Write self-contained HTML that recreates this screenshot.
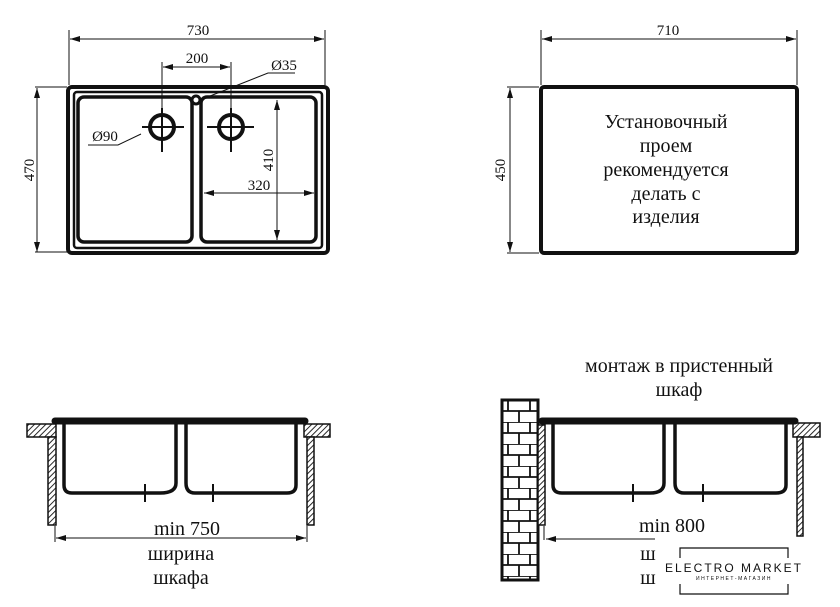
<!DOCTYPE html>
<html><head><meta charset="utf-8"><style>
html,body{margin:0;padding:0;background:#fff;width:840px;height:607px;overflow:hidden}
svg{display:block}
text{font-family:"Liberation Serif",serif;fill:#111}
</style></head><body>
<svg width="840" height="607" viewBox="0 0 840 607" xmlns="http://www.w3.org/2000/svg">
<defs>
<marker id="a" viewBox="0 0 10 6" refX="10" refY="3" markerWidth="10" markerHeight="6" orient="auto-start-reverse" markerUnits="userSpaceOnUse"><path d="M0,0 L10,3 L0,6 z" fill="#111"/></marker>
<pattern id="h" width="4" height="4" patternUnits="userSpaceOnUse" patternTransform="rotate(45)"><rect width="4" height="4" fill="#fff"/><line x1="0" y1="0" x2="0" y2="4" stroke="#111" stroke-width="1.8"/></pattern>
<pattern id="b" width="22" height="22" patternUnits="userSpaceOnUse" x="502" y="400"><rect width="22" height="22" fill="#fff"/><path d="M0,0H22M0,11H22M6,0V11M17,11V22" stroke="#111" stroke-width="1.8" fill="none"/></pattern>
</defs>
<g stroke="#111" fill="none">
<rect x="68" y="87" width="260" height="166" rx="4" stroke-width="4"/>
<rect x="74" y="92" width="248" height="156" rx="3" stroke-width="2.5"/>
<rect x="78" y="97" width="114" height="145" rx="6" stroke-width="3.5"/>
<rect x="201" y="97" width="115" height="145" rx="6" stroke-width="3.5"/>
<circle cx="196" cy="100" r="4" stroke-width="3"/>
<circle cx="162" cy="127" r="12" stroke-width="4"/>
<circle cx="231" cy="127" r="12" stroke-width="4"/>
<path d="M142,127H184M162,108V152M207,127H254M231,108V152" stroke-width="2"/>
<g stroke-width="1">
<path d="M69,85V30M325,85V30M162,108V62M231,108V62"/>
<line x1="70" y1="39" x2="324" y2="39" marker-start="url(#a)" marker-end="url(#a)"/>
<line x1="163" y1="67" x2="230" y2="67" marker-start="url(#a)" marker-end="url(#a)"/>
<path d="M295,73H268L200,100"/>
<path d="M88,145H118L141,134"/>
<path d="M67,87H35M67,252H35"/>
<line x1="37" y1="88" x2="37" y2="252" marker-start="url(#a)" marker-end="url(#a)"/>
<line x1="277" y1="100" x2="277" y2="240" marker-start="url(#a)" marker-end="url(#a)"/>
<line x1="204" y1="193" x2="314" y2="193" marker-start="url(#a)" marker-end="url(#a)"/>
</g>
<rect x="541" y="87" width="256" height="166" rx="3" stroke-width="4"/>
<g stroke-width="1">
<path d="M541,85V30M797,85V30M539,87H507M539,253H507"/>
<line x1="542" y1="39" x2="796" y2="39" marker-start="url(#a)" marker-end="url(#a)"/>
<line x1="510" y1="88" x2="510" y2="252" marker-start="url(#a)" marker-end="url(#a)"/>
</g>
<rect x="27" y="424" width="29" height="13" fill="url(#h)" stroke-width="1.5"/>
<rect x="304" y="424" width="26" height="13" fill="url(#h)" stroke-width="1.5"/>
<rect x="48" y="437" width="8" height="88" fill="url(#h)" stroke-width="1.5"/>
<rect x="307" y="437" width="7" height="88" fill="url(#h)" stroke-width="1.5"/>
<path d="M55,421H305" stroke-width="7" stroke-linecap="round"/>
<path d="M64,424V485Q64,493 72,493H160Q176,493 176,483V424" stroke-width="3.5"/>
<path d="M186,424V483Q186,493 195,493H287Q296,493 296,485V424" stroke-width="3.5"/>
<path d="M145,484V502M213,484V502" stroke-width="2"/>
<g stroke-width="1"><path d="M55,526V542M307,526V542"/>
<line x1="56" y1="538" x2="306" y2="538" marker-start="url(#a)" marker-end="url(#a)"/></g>
<rect x="502" y="400" width="36" height="180" fill="url(#b)" stroke-width="3"/>
<rect x="538" y="425" width="7" height="100" fill="url(#h)" stroke-width="1.5"/>
<rect x="793" y="423" width="27" height="14" fill="url(#h)" stroke-width="1.5"/>
<rect x="797" y="437" width="6" height="99" fill="url(#h)" stroke-width="1.5"/>
<path d="M542,421H795" stroke-width="7" stroke-linecap="round"/>
<path d="M553,424V485Q553,493 562,493H650Q664,493 664,483V424" stroke-width="3.5"/>
<path d="M675,424V483Q675,493 684,493H776Q786,493 786,485V424" stroke-width="3.5"/>
<path d="M633,484V502M703,484V502" stroke-width="2"/>
<g stroke-width="1"><path d="M544,526V540"/>
<line x1="546" y1="539" x2="655" y2="539" marker-start="url(#a)"/></g>
<path d="M680,558V548H788V558M680,584V594H788V584" stroke-width="1.2"/>
</g>
<g font-size="15" text-anchor="middle">
<text x="198" y="35">730</text>
<text x="197" y="63">200</text>
<text x="284" y="70">Ø35</text>
<text x="105" y="141">Ø90</text>
<text x="259" y="190">320</text>
<text transform="translate(34,170) rotate(-90)">470</text>
<text transform="translate(273,160) rotate(-90)">410</text>
<text x="668" y="35">710</text>
<text transform="translate(505,170) rotate(-90)">450</text>
</g>
<g font-size="20" text-anchor="middle">
<text x="666" y="128">Установочный</text>
<text x="666" y="152">проем</text>
<text x="666" y="176">рекомендуется</text>
<text x="666" y="200">делать с</text>
<text x="666" y="223">изделия</text>
<text x="187" y="535">min 750</text>
<text x="181" y="560">ширина</text>
<text x="181" y="584">шкафа</text>
<text x="679" y="372">монтаж в пристенный</text>
<text x="679" y="396">шкаф</text>
<text x="672" y="532">min 800</text>
<text x="648" y="560">ш</text>
<text x="648" y="584">ш</text>
</g>
<text x="734" y="572" font-size="12" letter-spacing="2" text-anchor="middle" style="font-family:'Liberation Sans',sans-serif">ELECTRO MARKET</text>
<text x="734" y="580" font-size="5" letter-spacing="1.5" text-anchor="middle" style="font-family:'Liberation Sans',sans-serif">ИНТЕРНЕТ-МАГАЗИН</text>
</svg>
</body></html>
